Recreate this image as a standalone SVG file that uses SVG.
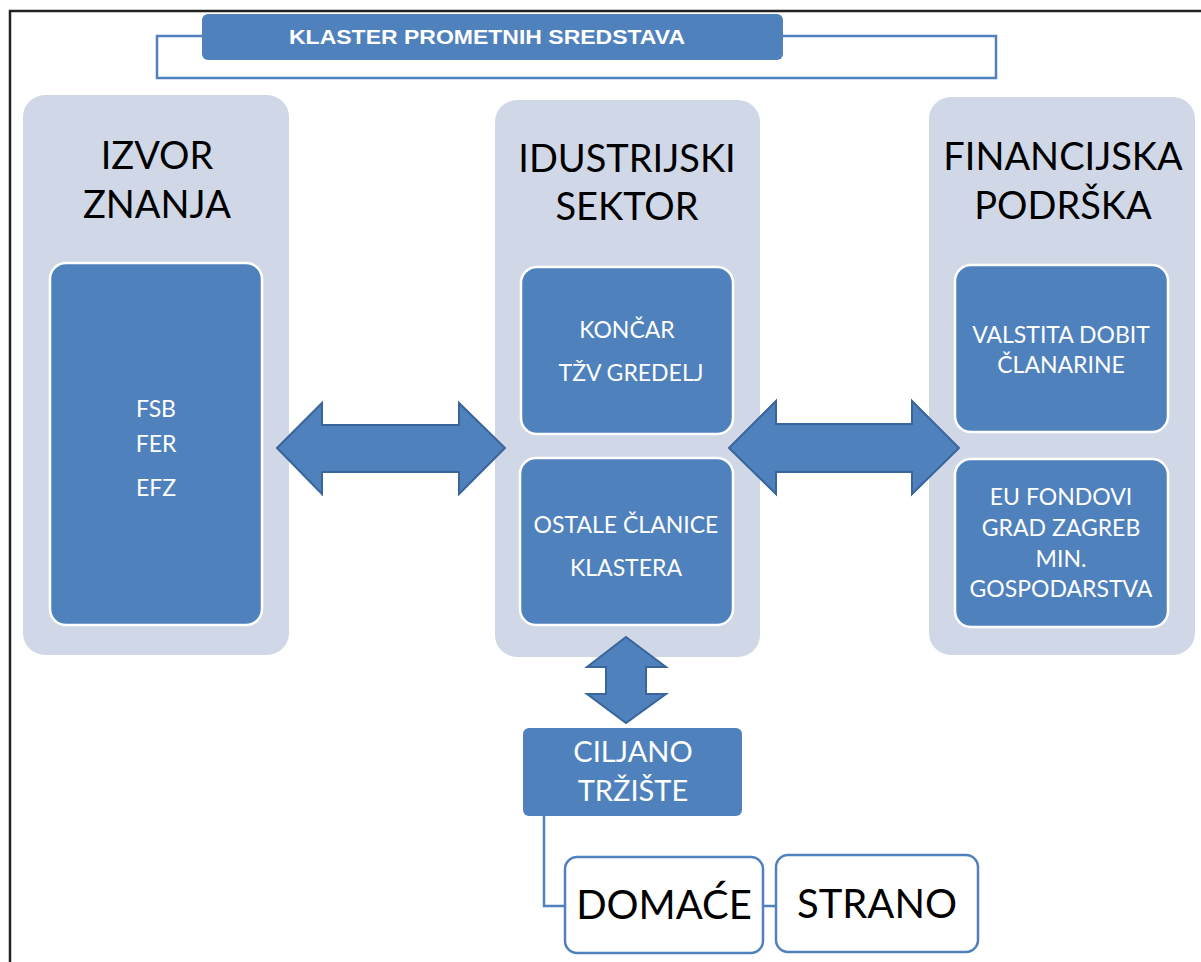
<svg xmlns="http://www.w3.org/2000/svg" width="1201" height="962" viewBox="0 0 1201 962">
<style>
.panel{fill:#D0D8E8;}
.inner{fill:#4F81BD;stroke:#FFFFFF;stroke-width:2.5;}
.head{font-family:Lato,"Open Sans",sans-serif;font-size:38px;fill:#000;text-anchor:middle;}
.itxt{font-family:Lato,"Open Sans",sans-serif;font-size:23px;fill:#FFFFFF;text-anchor:middle;}
.arrow{fill:#4F81BD;stroke:#3A659A;stroke-width:2;stroke-linejoin:miter;}
.conn{fill:none;stroke:#4F81BD;stroke-width:2.5;}
.wbox{fill:#FFFFFF;stroke:#4F81BD;stroke-width:2.5;}
.btxt{font-family:Lato,"Open Sans",sans-serif;font-size:40px;fill:#000;text-anchor:middle;}
</style>
<rect x="0" y="0" width="1201" height="962" fill="#FFFFFF"/>
<path d="M10,962 L10,11 L1201,11" fill="none" stroke="#222" stroke-width="2.5"/>

<g id="title">
  <rect x="202" y="14" width="581" height="46" rx="6" fill="#4F81BD"/>
  <text x="487" y="44" font-family="'Liberation Sans',Arial,sans-serif" font-weight="bold" font-size="21" fill="#FFFFFF" text-anchor="middle" textLength="396" lengthAdjust="spacingAndGlyphs">KLASTER PROMETNIH SREDSTAVA</text>
</g>

<g id="izvor-znanja">
  <rect class="panel" x="23" y="95" width="266" height="560" rx="22"/>
  <text class="head" x="157" y="169">IZVOR</text>
  <text class="head" x="157" y="218">ZNANJA</text>
  <rect class="inner" x="50" y="263" width="212" height="362" rx="16"/>
  <text class="itxt" x="156" y="417" font-size="22">FSB</text>
  <text class="itxt" x="156" y="452" font-size="22">FER</text>
  <text class="itxt" x="156" y="496" font-size="22">EFZ</text>
</g>

<g id="industrijski-sektor">
  <rect class="panel" x="495" y="100" width="265" height="557" rx="22"/>
  <text class="head" x="627" y="172">IDUSTRIJSKI</text>
  <text class="head" x="627" y="220">SEKTOR</text>
  <rect class="inner" x="521" y="267" width="212" height="167" rx="16"/>
  <text class="itxt" x="627" y="338">KONČAR</text>
  <text class="itxt" x="631" y="381">TŽV GREDELJ</text>
  <rect class="inner" x="520" y="458" width="213" height="167" rx="16"/>
  <text class="itxt" x="626" y="533">OSTALE ČLANICE</text>
  <text class="itxt" x="626" y="576">KLASTERA</text>
</g>

<g id="financijska-podrska">
  <rect class="panel" x="929" y="97" width="266" height="558" rx="22"/>
  <text class="head" x="1063" y="170">FINANCIJSKA</text>
  <text class="head" x="1063" y="219">PODRŠKA</text>
  <rect class="inner" x="955" y="265" width="213" height="167" rx="16"/>
  <text class="itxt" x="1061" y="343">VALSTITA DOBIT</text>
  <text class="itxt" x="1061" y="373">ČLANARINE</text>
  <rect class="inner" x="955" y="459" width="213" height="168" rx="16"/>
  <text class="itxt" x="1061" y="505">EU FONDOVI</text>
  <text class="itxt" x="1061" y="536">GRAD ZAGREB</text>
  <text class="itxt" x="1061" y="567">MIN.</text>
  <text class="itxt" x="1061" y="597">GOSPODARSTVA</text>
</g>

<g id="ciljano-trziste">
  <rect x="523" y="728" width="219" height="88" rx="6" fill="#4F81BD"/>
  <text x="633" y="762" font-family="Lato,'Open Sans',sans-serif" font-size="29" fill="#FFFFFF" text-anchor="middle">CILJANO</text>
  <text x="633" y="801" font-family="Lato,'Open Sans',sans-serif" font-size="29" fill="#FFFFFF" text-anchor="middle">TRŽIŠTE</text>
</g>

<g id="domace">
  <rect class="wbox" x="565" y="857" width="198" height="96" rx="12"/>
  <text class="btxt" x="664" y="919">DOMAĆE</text>
</g>

<g id="strano">
  <rect class="wbox" x="776" y="855" width="202" height="97" rx="12"/>
  <text class="btxt" x="877" y="918">STRANO</text>
</g>

<g id="connectors">
  <path class="conn" d="M202,36 L157,36 L157,78 L996,78 L996,36 L783,36"/>
  <path class="conn" d="M544,816 L544,906 L566,906"/>
  <path class="conn" d="M763,906 L776,906"/>
  <path class="arrow" d="M277,448 L322,403 L322,425 L459,425 L459,403 L505,448 L459,494 L459,472 L322,472 L322,494 Z"/>
  <path class="arrow" d="M729,448 L776,401 L776,424 L912,424 L912,401 L959,448 L912,494 L912,472 L776,472 L776,494 Z"/>
  <path class="arrow" d="M626,637 L666,667 L646,667 L646,694 L666,694 L626,723 L587,694 L606,694 L606,667 L587,667 Z"/>
</g>
</svg>
